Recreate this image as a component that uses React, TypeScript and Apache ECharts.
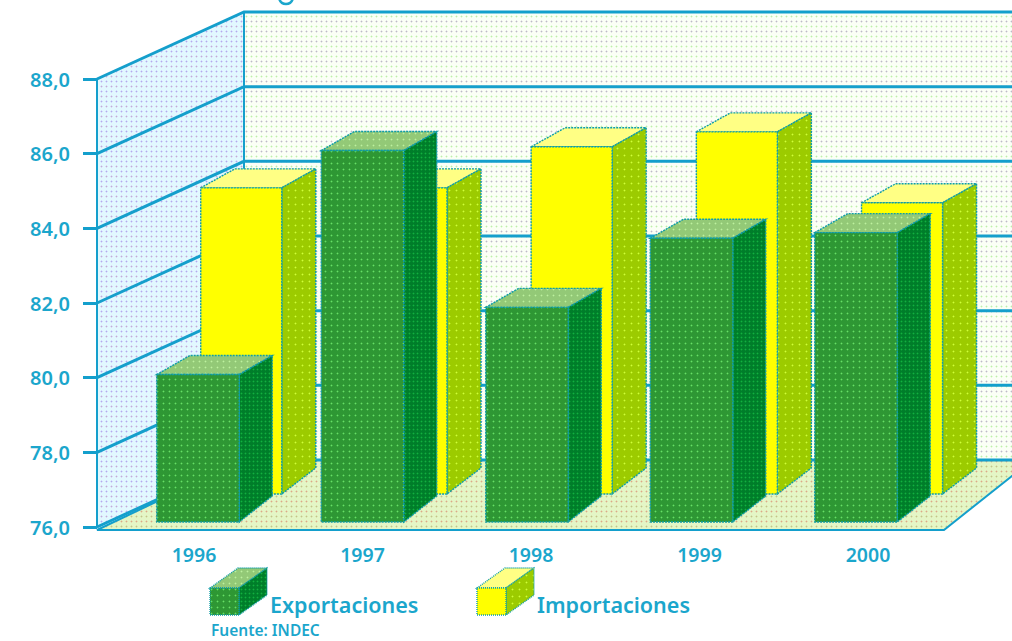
import React, { useEffect, useRef } from "react";
import * as echarts from "echarts";

// Balanza comercial: pseudo-3D columns on a walled stage.
const years = ["1996", "1997", "1998", "1999", "2000"];
const exportaciones = [79.95, 85.95, 81.75, 83.6, 83.75];
const importaciones = [84.2, 84.2, 85.3, 85.7, 83.8];
const wallTicks = [76, 78, 80, 82, 84, 86, 88];

const INK = "#1BA6CC";
const LINE = "#149FCC";
const EDGE = "#0F9DA8";
const FONT = "'Noto Sans', 'Open Sans', sans-serif";

// Halftone fill: flat colour with a regular screen of soft dots.
function screen(bg: string, dot: string, dot2: string = dot, step = 5) {
  const c = document.createElement("canvas");
  c.width = step;
  c.height = step * 2;
  const g = c.getContext("2d")!;
  g.fillStyle = bg;
  g.fillRect(0, 0, c.width, c.height);
  const stamp = (colour: string, y: number) => {
    g.fillStyle = colour;
    g.globalAlpha = 0.35;
    g.fillRect(0, y, 1, 1);
    g.fillRect(2, y, 1, 1);
    g.fillRect(1, y - 1, 1, 1);
    g.fillRect(1, y + 1, 1, 1);
    g.globalAlpha = 1;
    g.fillRect(1, y, 1, 1);
  };
  stamp(dot, 1);
  stamp(dot2, step + 1);
  return { image: c, repeat: "repeat", imageWidth: c.width, imageHeight: c.height } as any;
}

const WALL_DX = 147;
const WALL_DY = 67;
const BAR_DY = 19;
const BAR_FOOT_DY = 26;

function cuboid(
  x: number,
  top: number,
  w: number,
  base: number,
  dx: number,
  dy: number,
  footDy: number,
  skin: { front: any; side: any; top: any },
  dash: number[] = [2, 1],
) {
  const stroke = { stroke: EDGE, lineWidth: 1.4, lineDash: dash };
  return [
    {
      type: "polygon",
      shape: { points: [[x, top], [x + dx, top - dy], [x + w + dx, top - dy], [x + w, top]] },
      style: { fill: skin.top, ...stroke },
    },
    {
      type: "polygon",
      shape: { points: [[x + w, top], [x + w + dx, top - dy], [x + w + dx, base - footDy], [x + w, base]] },
      style: { fill: skin.side, ...stroke },
    },
    {
      type: "rect",
      shape: { x, y: top, width: w, height: base - top },
      style: { fill: skin.front, ...stroke },
    },
  ];
}

export default function App() {
  const ref = useRef<HTMLDivElement>(null);

  useEffect(() => {
    const chart = echarts.init(ref.current!, undefined, { renderer: "svg" });

    const sideWall = screen("#E2F8FF", "#B4A8EE", "#C4A8D8");
    const backWall = screen("#FBFFF6", "#BEB8C8", "#BCF0A8");
    const floor = screen("#E4F6C6", "#DCA888", "#C4C488");
    const greenSkin = {
      front: screen("#2E9734", "#66E066", "#66E066", 6),
      side: screen("#007E2A", "#12B040", "#12B040", 4),
      top: screen("#93C977", "#BDF09F", "#BDF09F", 6),
    };
    const yellowSkin = {
      front: "#FFFF00",
      side: screen("#9CCB00", "#D0FF38", "#D0FF38", 7),
      top: "#FFFF84",
    };

    const stage = (params: any, api: any) => {
      const v = api.value(0);
      const [, y] = api.coord([0, v]);
      const x0 = params.coordSys.x - 19;
      const xRight = 1090;
      const children: any[] = [];
      if (params.dataIndex === 0) {
        const [, yTop] = api.coord([0, wallTicks[wallTicks.length - 1]]);
        children.push(
          {
            type: "polygon",
            shape: { points: [[x0 + WALL_DX, yTop - WALL_DY], [xRight, yTop - WALL_DY], [xRight, y - WALL_DY], [x0 + WALL_DX, y - WALL_DY]] },
            style: { fill: backWall },
          },
          {
            type: "polygon",
            shape: { points: [[x0, yTop], [x0 + WALL_DX, yTop - WALL_DY], [x0 + WALL_DX, y - WALL_DY], [x0, y]] },
            style: { fill: sideWall },
          },
          {
            type: "polygon",
            shape: { points: [[x0, y + 3], [x0 + WALL_DX, y - WALL_DY], [1032, y - WALL_DY], [944, y + 3]] },
            style: { fill: floor, stroke: LINE, lineWidth: 2 },
          },
          {
            type: "line",
            shape: { x1: x0 + WALL_DX, y1: yTop - WALL_DY, x2: x0 + WALL_DX, y2: y - WALL_DY },
            style: { stroke: LINE, lineWidth: 2 },
          },
        );
      }
      children.push({
        type: "polyline",
        shape: { points: [[x0, y], [x0 + WALL_DX, y - WALL_DY], [xRight, y - WALL_DY]] },
        style: { fill: "none", stroke: LINE, lineWidth: 3 },
      });
      return { type: "group", children };
    };

    // drift: the rear row is spaced a little wider than the front row
    const columns = (skin: any, shiftX: number, drift: number, width: number, depth: number, lift: number) => (_p: any, api: any) => {
      const [cx, yTop] = api.coord([api.value(0), api.value(1)]);
      const [, yBase] = api.coord([api.value(0), 76]);
      const x = cx - 41.5 + shiftX + api.value(0) * drift;
      return {
        type: "group",
        children: cuboid(x, yTop - lift, width, yBase - lift, depth, BAR_DY, BAR_FOOT_DY, skin),
      };
    };

    const keyLabel = { fill: INK, font: `600 21.5px ${FONT}` };

    chart.setOption({
      animation: false,
      grid: [
        { left: 116, top: 79, width: 822.5, height: 448 },
        { left: 109.75, top: 79, width: 842.5, height: 448 },
      ],
      xAxis: [
        {
          type: "category",
          data: years,
          gridIndex: 0,
          axisLine: { show: false },
          axisTick: { show: false },
          axisLabel: { show: false },
        },
        {
          type: "category",
          data: years,
          gridIndex: 1,
          axisLine: { show: false },
          axisTick: { show: false },
          axisLabel: { color: INK, fontFamily: FONT, fontSize: 19.5, fontWeight: 600, margin: 17 },
        },
      ],
      yAxis: [
        {
          type: "value",
          gridIndex: 0,
          min: 76,
          max: 88,
          interval: 2,
          offset: 19,
          splitLine: { show: false },
          axisLine: { show: true, lineStyle: { color: LINE, width: 2 } },
          axisTick: { show: true, length: 14, lineStyle: { color: LINE, width: 3 } },
          axisLabel: {
            color: INK,
            fontFamily: FONT,
            fontSize: 20,
            fontWeight: 600,
            margin: 27,
            formatter: (v: number) => v.toFixed(1).replace(".", ","),
          },
          z: 5,
        },
        { type: "value", gridIndex: 1, min: 76, max: 88, show: false },
      ],
      series: [
        {
          type: "custom",
          name: "Plano",
          xAxisIndex: 0,
          yAxisIndex: 0,
          data: wallTicks.map((t) => [t]),
          encode: { y: 0 },
          renderItem: stage,
          silent: true,
          z: 1,
        },
        {
          type: "custom",
          name: "Importaciones",
          xAxisIndex: 0,
          yAxisIndex: 0,
          data: importaciones.map((v, i) => [i, v]),
          encode: { x: 0, y: 1 },
          renderItem: columns(yellowSkin, 44, 0.7, 81, 34, 33),
          z: 2,
        },
        {
          type: "custom",
          name: "Exportaciones",
          xAxisIndex: 0,
          yAxisIndex: 0,
          data: exportaciones.map((v, i) => [i, v]),
          encode: { x: 0, y: 1 },
          renderItem: columns(greenSkin, 0, 0, 82.5, 33, 5),
          z: 3,
        },
      ],
      graphic: [
        // Legend keys and captions
        ...cuboid(210, 588, 29, 615, 28, 20, 20, greenSkin, [1, 1]).map((e) => ({ ...e, silent: true })),
        ...cuboid(477, 588, 29, 615, 28, 20, 20, yellowSkin, [1, 1]).map((e) => ({ ...e, silent: true })),
        { type: "text", x: 270, y: 604, style: { ...keyLabel, text: "Exportaciones", verticalAlign: "middle" } },
        { type: "text", x: 537, y: 604, style: { ...keyLabel, text: "Importaciones", verticalAlign: "middle" } },
        {
          type: "text",
          x: 211,
          y: 630,
          style: { text: "Fuente: INDEC", fill: INK, font: `600 15.5px ${FONT}`, verticalAlign: "middle" },
        },
        // Tail of the heading's descender, above the stage
        {
          type: "arc",
          shape: { cx: 286, cy: -3, r: 7, startAngle: 0.3, endAngle: Math.PI - 0.3 },
          style: { stroke: INK, lineWidth: 2.5, fill: "none" },
        },
      ],
    });

    return () => chart.dispose();
  }, []);

  return <div ref={ref} style={{ position: "fixed", left: 0, top: 0, width: 1012, height: 641, background: "#fff" }} />;
}
